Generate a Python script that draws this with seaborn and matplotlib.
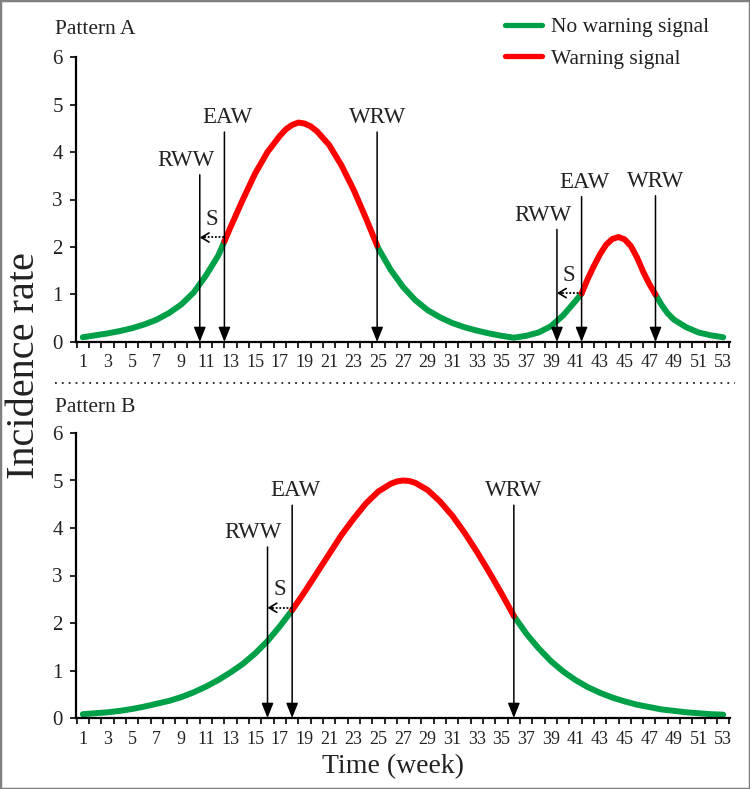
import numpy as np
import pandas as pd
import matplotlib
matplotlib.use("Agg")
import matplotlib.pyplot as plt
from matplotlib.patches import Rectangle
from matplotlib.lines import Line2D
import seaborn as sns

# ---------------- data ----------------
weeks_a = [1, 2, 3, 4, 5, 6, 7, 8, 9, 10, 11, 12, 12.5, 13, 14, 15, 16, 17, 17.5, 18,
           18.5, 19, 19.5, 20, 21, 22, 23, 24, 24.9, 25, 26, 27, 28, 29, 30, 31, 32,
           33, 34, 35, 36, 37, 38, 39, 40, 41, 41.5, 42, 42.5, 43, 43.5, 44, 44.5, 45,
           45.5, 46, 46.5, 47, 47.5, 48, 48.5, 49, 50, 51, 52, 53]
rate_a = [0.10, 0.14, 0.18, 0.23, 0.29, 0.37, 0.47, 0.61, 0.79, 1.04, 1.40, 1.82, 2.12,
          2.42, 3.00, 3.55, 4.00, 4.34, 4.48, 4.57, 4.62, 4.60, 4.54, 4.44, 4.15, 3.72,
          3.20, 2.60, 2.03, 1.97, 1.52, 1.16, 0.88, 0.67, 0.52, 0.40, 0.31, 0.24, 0.18,
          0.13, 0.09, 0.13, 0.20, 0.33, 0.56, 0.86, 1.02, 1.33, 1.60, 1.85, 2.05, 2.17,
          2.21, 2.16, 2.02, 1.78, 1.48, 1.22, 1.00, 0.78, 0.60, 0.47, 0.31, 0.20, 0.14,
          0.10]
warn_a = [(12.5, 24.9), (41.5, 47.5)]          # (EAW, WRW) windows
rww_a = [10.5, 39.5]

weeks_b = [1, 2, 3, 4, 5, 6, 7, 8, 9, 10, 11, 12, 13, 14, 15, 16, 17, 18, 19, 20, 21,
           22, 23, 24, 25, 26, 26.5, 27, 27.5, 28, 29, 30, 31, 32, 33, 34, 35, 36, 37,
           38, 39, 40, 41, 42, 43, 44, 45, 46, 47, 48, 49, 50, 51, 52, 53]
rate_b = [0.08, 0.10, 0.12, 0.15, 0.19, 0.24, 0.30, 0.36, 0.44, 0.54, 0.66, 0.80, 0.96,
          1.14, 1.36, 1.62, 1.93, 2.27, 2.65, 3.05, 3.45, 3.85, 4.20, 4.52, 4.77, 4.93,
          4.98, 5.00, 4.99, 4.95, 4.80, 4.56, 4.26, 3.90, 3.50, 3.07, 2.62, 2.15, 1.78,
          1.47, 1.20, 0.98, 0.80, 0.65, 0.53, 0.43, 0.35, 0.28, 0.23, 0.18, 0.15, 0.12,
          0.10, 0.08, 0.07]
warn_b = [(18, 36)]
rww_b = [16.0]

# arrow top heights (RWW, EAW, WRW) per episode
tops_a = [(3.52, 4.42, 4.42), (2.37, 3.06, 3.08)]
tops_b = [(3.60, 4.48, 4.48)]
s_level_a = [2.20, 1.03]
s_level_b = [2.32]

x_ticklabels = [str(w) for w in range(1, 54, 2)]
y_ticks = [0, 1, 2, 3, 4, 5, 6]
NO, YES = "No warning signal", "Warning signal"
GREEN, RED = "#00A048", "#FF0000"

# ---------------- style ----------------
sns.set_style("ticks")
plt.rcParams["font.family"] = ["Liberation Serif", "DejaVu Serif"]
plt.rcParams["text.color"] = "#222222"

W, H = 750, 789
fig = plt.figure(figsize=(W / 100, H / 100), dpi=100)


def fx(px):
    return px / W


def fy(py):
    return 1 - py / H


def build(weeks, rate, windows):
    sig = []
    for w in weeks:
        s = NO
        for a, b in windows:
            if a <= w < b:
                s = YES
        sig.append(s)
    rows = []
    seg = 0
    for i in range(len(weeks)):
        if i > 0 and sig[i] != sig[i - 1]:
            rows.append(dict(week=weeks[i], rate=rate[i], signal=sig[i - 1], seg=seg))
            seg += 1
        rows.append(dict(week=weeks[i], rate=rate[i], signal=sig[i], seg=seg))
    return pd.DataFrame(rows)


def draw_panel(ax, weeks, rate, windows, rwws, tops, s_levels, legend):
    df = build(weeks, rate, windows)
    sns.lineplot(data=df, x="week", y="rate", hue="signal", units="seg",
                 estimator=None, sort=False, hue_order=[NO, YES],
                 palette={NO: GREEN, YES: RED}, lw=4.3, ax=ax,
                 legend=legend, solid_capstyle="round", solid_joinstyle="round")
    ax.set_xlim(0.45, 53.55)
    ax.set_ylim(0, 6)
    ax.set_yticks(y_ticks)
    ax.set_yticklabels([str(v) for v in y_ticks], fontsize=15)
    ax.set_xticks(np.arange(0.5, 54, 1))
    ax.set_xticklabels([])
    ax.set_xticks(range(1, 54, 2), minor=True)
    ax.set_xticklabels(x_ticklabels, minor=True, fontsize=13)
    ax.tick_params(axis="x", which="major", length=4.5, width=1.2, direction="out",
                   color="black")
    ax.tick_params(axis="x", which="minor", length=0, pad=9, labelcolor="#222222")
    ax.tick_params(axis="y", length=4.5, width=1.2, pad=5, color="black",
                   labelcolor="#222222")
    for s in ("left", "bottom"):
        ax.spines[s].set_linewidth(1.6)
        ax.spines[s].set_color("black")
    for s in ("top", "right"):
        ax.spines[s].set_visible(False)
    ax.set_xlabel("")
    ax.set_ylabel("")

    apc = dict(arrowstyle="-|>,head_length=0.9,head_width=0.36", color="black",
               lw=1.1, shrinkA=0, shrinkB=0, mutation_scale=10)
    for (eaw, wrw), rww, (t_r, t_e, t_w), sl in zip(windows, rwws, tops, s_levels):
        for xpos, top, lab, dx in ((rww, t_r, "RWW", -1.15), (eaw, t_e, "EAW", 0.25),
                                  (wrw, t_w, "WRW", 0.0)):
            ax.annotate("", xy=(xpos, 0.0), xytext=(xpos, top), arrowprops=apc)
            ax.text(xpos + dx, top + 0.3, lab, ha="center", va="center",
                    fontsize=16.5, color="#222222")
        # S dotted arrow
        ax.plot([eaw, rww + 0.25], [sl, sl], color="black", lw=1.3,
                linestyle=(0, (1, 1)), solid_capstyle="butt")
        ax.annotate("", xy=(rww, sl), xytext=(rww + 0.4, sl),
                    arrowprops=dict(arrowstyle="->,head_length=0.55,head_width=0.33",
                                    color="black", lw=1.2, shrinkA=0, shrinkB=0,
                                    mutation_scale=10))
        ax.text((eaw + rww) / 2, sl + 0.38, "S", ha="center", va="center",
                fontsize=16.5, color="#222222")


ax_a = fig.add_axes([fx(76), fy(342), fx(730) - fx(76), fy(57) - fy(342)])
ax_b = fig.add_axes([fx(76), fy(718), fx(730) - fx(76), fy(433) - fy(718)])

draw_panel(ax_a, weeks_a, rate_a, warn_a, rww_a, tops_a, s_level_a, True)
draw_panel(ax_b, weeks_b, rate_b, warn_b, rww_b, tops_b, s_level_b, False)

handles = [Line2D([], [], color=GREEN, lw=3.8, solid_capstyle="round"),
           Line2D([], [], color=RED, lw=3.8, solid_capstyle="round")]
ax_a.legend(handles, [NO, YES], loc="upper left",
            bbox_to_anchor=(fx(505), fy(17)), bbox_transform=fig.transFigure,
            frameon=False, fontsize=15.5, handlelength=1.7, handletextpad=0.45,
            labelspacing=0.55, borderpad=0, borderaxespad=0)

fig.text(fx(55), fy(30), "Pattern A", ha="left", va="center", fontsize=15.5)
fig.text(fx(55), fy(407), "Pattern B", ha="left", va="center", fontsize=15.5)
fig.text(fx(25), fy(366), "Incidence rate", rotation=90, ha="center", va="center",
         fontsize=29)
fig.text(fx(393), fy(767), "Time (week)", ha="center", va="center", fontsize=20)

fig.add_artist(Line2D([fx(55), fx(735)], [fy(383), fy(383)], color="#222222",
                      lw=1.3, linestyle=(0, (1, 2.8)), transform=fig.transFigure))
fig.add_artist(Rectangle((0, 0), 1, 1, transform=fig.transFigure, fill=False,
                         edgecolor="#808080", lw=2.5))

fig.savefig("out.png", dpi=100)
